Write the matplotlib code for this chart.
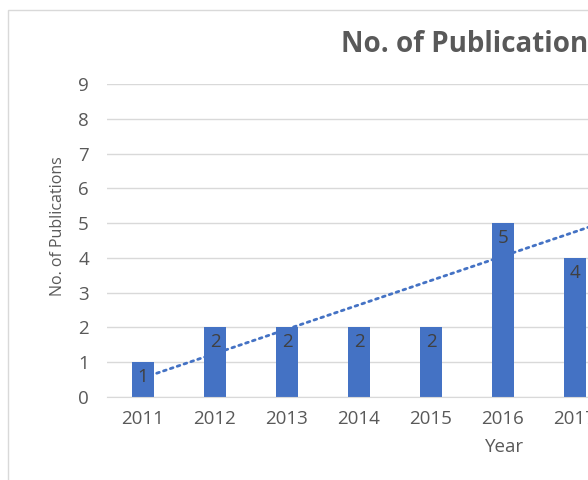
import matplotlib
matplotlib.use("Agg")
import matplotlib.pyplot as plt
from matplotlib.patches import Rectangle

# --- datos ---
anios = ["2011", "2012", "2013", "2014", "2015", "2016", "2017"]
publicaciones = [1, 2, 2, 2, 2, 5, 4]
tendencia_idx = [0, 7]
tendencia_val = [0.55, 5.45]
y_ticks = list(range(0, 10))

AZUL = "#4472C4"
GRIS_TXT = "#595959"
GRIS_GRID = "#D9D9D9"

plt.rcParams["font.family"] = ["Open Sans", "DejaVu Sans"]

fig = plt.figure(figsize=(5.88, 4.8), dpi=100)
W, H = 588, 480

# marco del area del grafico (recortado a la derecha y abajo)
fig.patches.append(Rectangle((8 / W, -0.2), 2.0, 1.2 - 10 / H,
                             transform=fig.transFigure, fill=False,
                             edgecolor=GRIS_GRID, linewidth=1.0))

ax = fig.add_axes([107 / W, 1 - 397 / H, (611 - 107) / W, (397 - 84) / H])
x = list(range(len(anios)))
ax.bar(x, publicaciones, width=0.3, color=AZUL, zorder=2)
ax.plot(tendencia_idx, tendencia_val, linestyle=(0, (1, 1.6)), color=AZUL,
        linewidth=2.0, zorder=3, dash_capstyle="round")

# etiquetas de datos (dentro, arriba)
for xi, v in zip(x, publicaciones):
    ax.text(xi, v - 0.17, str(v), ha="center", va="top", fontsize=13.5,
            color="#404040", zorder=4)

ax.set_xlim(-0.5, 6.5)
ax.set_ylim(0, 9)
ax.set_yticks(y_ticks)
ax.set_xticks(x)
ax.set_xticklabels(anios)
ax.tick_params(axis="both", length=0, labelsize=13.5, labelcolor=GRIS_TXT)
ax.tick_params(axis="y", pad=13)
ax.tick_params(axis="x", pad=9)
ax.grid(axis="y", color=GRIS_GRID, linewidth=1.0, zorder=0)
for s in ["top", "right", "left"]:
    ax.spines[s].set_visible(False)
ax.spines["bottom"].set_color(GRIS_GRID)

ax.set_ylabel("No. of Publications", fontsize=11.5, color=GRIS_TXT)
ax.yaxis.set_label_coords((66 - 107) / (611 - 107), (397 - 226) / (397 - 84))
ax.set_xlabel("Year", fontsize=13.5, color=GRIS_TXT)
ax.xaxis.set_label_coords((505 - 107) / (611 - 107), -(438 - 397) / (397 - 84))

fig.text(341 / W, 1 - 44 / H, "No. of Publications", ha="left", va="center",
         fontsize=20, fontweight="bold", color=GRIS_TXT)

fig.savefig("out.png", dpi=100)
